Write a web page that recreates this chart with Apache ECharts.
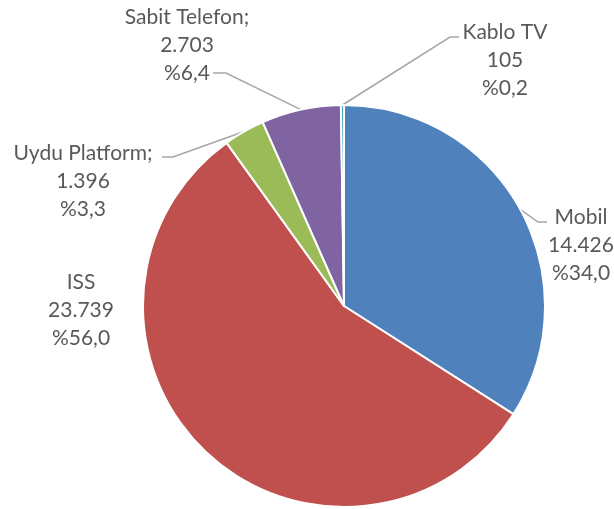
<!DOCTYPE html>
<html>
<head>
<meta charset="utf-8">
<script src="https://cdn.jsdelivr.net/npm/echarts@6/dist/echarts.min.js"></script>
<style>
  html, body { margin: 0; padding: 0; background: #fff; }
  #chart { width: 614px; height: 509px; }
</style>
</head>
<body>
<div id="chart"></div>
<script>
const categories = ['Mobil', 'ISS', 'Uydu Platform', 'Sabit Telefon', 'Kablo TV']
const nameSuffix = ['', '', ';', ';', '']
const values = [14426, 23739, 1396, 2703, 105]
const percents = ['34,0', '56,0', '3,3', '6,4', '0,2']
const colors = ['#4F81BD', '#C0504D', '#9BBB59', '#8064A2', '#4BACC6']

// label block centres (px) and leader line elbow / end points
const labelPos = [[581, 245], [81, 310], [83, 181], [187, 45], [505, 60]]
const leaderPts = [
  [[538, 222], [547, 222]],
  null,
  [[173, 157], [162, 157]],
  [[226, 73], [213, 73]],
  [[450, 37], [459, 37]]
]

const fmt = v => String(v).replace(/\B(?=(\d{3})+(?!\d))/g, '.')

const chart = echarts.init(document.getElementById('chart'))
chart.setOption({
  animation: false,
  series: [{
    type: 'pie',
    center: [344, 306],
    radius: 201,
    startAngle: 90,
    clockwise: true,
    itemStyle: { borderColor: '#fff', borderWidth: 2 },
    label: {
      show: true,
      position: 'outside',
      overflow: 'none',
      fontFamily: 'Lato',
      fontSize: 21,
      lineHeight: 28,
      color: '#595959',
      align: 'center',
      formatter: p => categories[p.dataIndex] + nameSuffix[p.dataIndex] + '\n' + fmt(values[p.dataIndex]) + '\n%' + percents[p.dataIndex]
    },
    labelLine: { show: true, lineStyle: { color: '#A6A6A6', width: 1.5 } },
    labelLayout: p => {
      const i = p.dataIndex
      const out = { x: labelPos[i][0], y: labelPos[i][1], align: 'center', verticalAlign: 'middle' }
      if (leaderPts[i] && p.labelLinePoints) {
        out.labelLinePoints = [p.labelLinePoints[0], leaderPts[i][0], leaderPts[i][1]]
      }
      return out
    },
    data: categories.map((c, i) => ({
      name: c,
      value: values[i],
      itemStyle: { color: colors[i] },
      labelLine: { show: i !== 1 }
    }))
  }]
})
</script>
</body>
</html>
